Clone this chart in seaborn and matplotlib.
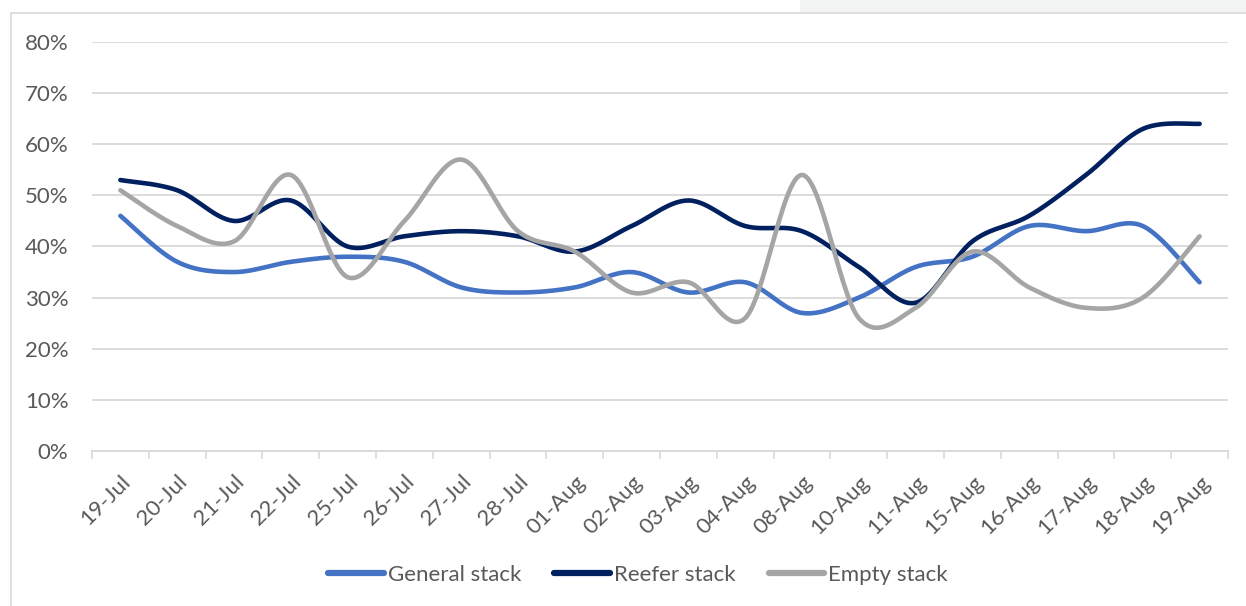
import numpy as np
import pandas as pd
import matplotlib
matplotlib.use("Agg")
import matplotlib.pyplot as plt
from matplotlib.patches import Rectangle
from matplotlib.ticker import FixedLocator, PercentFormatter
from matplotlib.transforms import ScaledTranslation
import seaborn as sns

dates = ["19-Jul", "20-Jul", "21-Jul", "22-Jul", "25-Jul", "26-Jul", "27-Jul",
         "28-Jul", "01-Aug", "02-Aug", "03-Aug", "04-Aug", "08-Aug", "10-Aug",
         "11-Aug", "15-Aug", "16-Aug", "17-Aug", "18-Aug", "19-Aug"]
general = [46, 37, 35, 37, 38, 37, 32, 31, 32, 35, 31, 33, 27, 30, 36, 38, 44, 43, 44, 33]
reefer = [53, 51, 45, 49, 40, 42, 43, 42, 39, 44, 49, 44, 43, 36, 29, 41, 46, 54, 63, 64]
empty = [51, 44, 41, 54, 34, 45, 57, 43, 39, 31, 33, 26, 54, 26, 28, 39, 32, 28, 30, 42]

series_names = ["General stack", "Reefer stack", "Empty stack"]
series_values = [general, reefer, empty]
colors = ["#4472C4", "#002060", "#A5A5A5"]


def smooth(values, steps=30):
    """Catmull-Rom spline through the points (smoothed line)."""
    y = np.asarray(values, dtype=float)
    x = np.arange(len(y), dtype=float)
    px = np.concatenate([[x[0]], x, [x[-1]]])
    py = np.concatenate([[y[0]], y, [y[-1]]])
    xs, ys = [], []
    for i in range(1, len(px) - 2):
        t = np.linspace(0, 1, steps, endpoint=(i == len(px) - 3))
        for p, out in ((px, xs), (py, ys)):
            p0, p1, p2, p3 = p[i - 1], p[i], p[i + 1], p[i + 2]
            m1 = (p2 - p0) / 2.0
            m2 = (p3 - p1) / 2.0
            h00 = 2 * t**3 - 3 * t**2 + 1
            h10 = t**3 - 2 * t**2 + t
            h01 = -2 * t**3 + 3 * t**2
            h11 = t**3 - t**2
            out.append(h00 * p1 + h10 * m1 + h01 * p2 + h11 * m2)
    return np.concatenate(xs), np.concatenate(ys)


frames = []
for name, vals in zip(series_names, series_values):
    sx, sy = smooth(vals)
    frames.append(pd.DataFrame({"pos": sx, "value": sy, "series": name}))
df = pd.concat(frames, ignore_index=True)

sns.set_theme(style="white")
plt.rcParams["font.family"] = ["Lato", "DejaVu Sans"]

W, H = 1246, 606
fig = plt.figure(figsize=(W / 100, H / 100), dpi=100)
fig.patch.set_facecolor("white")

# faint header band and chart frame
fig.add_artist(Rectangle((800 / W, 1 - 13 / H), 1, 13 / H, transform=fig.transFigure,
                         facecolor="#f3f4f4", edgecolor="none", zorder=0))
fig.add_artist(Rectangle((11 / W, -0.1), 1.2, 1.1 - 13 / H, transform=fig.transFigure,
                         facecolor="none", edgecolor="#d9d9d9", linewidth=1.2, zorder=1))

ax = fig.add_axes([92 / W, 1 - 451 / H, (1228 - 92) / W, (451 - 42) / H])
ax.set_facecolor("none")

sns.lineplot(data=df, x="pos", y="value", hue="series", hue_order=series_names,
             palette=colors, estimator=None, sort=False,
             linewidth=3.3, legend=False, ax=ax)
for ln in ax.lines:
    ln.set_solid_capstyle("round")
    ln.set_solid_joinstyle("round")
    ln.set_zorder(3)

ax.set_xlim(-0.5, len(dates) - 0.5)
ax.set_ylim(0, 80)
ax.set_yticks(np.arange(0, 81, 10))
ax.yaxis.set_major_formatter(PercentFormatter(decimals=0))
ax.grid(axis="y", color="#d9d9d9", linewidth=1.3)
ax.grid(axis="x", visible=False)
ax.set_axisbelow(True)

ax.set_xticks(np.arange(len(dates)))
ax.set_xticklabels(dates, rotation=45, ha="right", rotation_mode="anchor")
shift = ScaledTranslation(4 / 100, 0, fig.dpi_scale_trans)
for lab in ax.get_xticklabels():
    lab.set_transform(lab.get_transform() + shift)
ax.xaxis.set_minor_locator(FixedLocator(np.arange(-0.5, len(dates), 1.0)))
ax.tick_params(axis="x", which="major", length=0, pad=15, labelsize=16, labelcolor="#595959")
ax.tick_params(axis="x", which="minor", length=6, width=1.2, color="#d9d9d9", bottom=True)
ax.tick_params(axis="y", length=0, pad=17, labelsize=16, labelcolor="#595959")

for side in ("top", "right", "left"):
    ax.spines[side].set_visible(False)
ax.spines["bottom"].set_color("#d9d9d9")
ax.spines["bottom"].set_linewidth(1.3)
ax.set_xlabel("")
ax.set_ylabel("")

handles = ax.lines[:3]
leg = fig.legend(handles, series_names, loc="center", bbox_to_anchor=(638 / W, 1 - 575 / H),
                 ncol=3, frameon=False, fontsize=16, handlelength=2.5, handletextpad=0.18,
                 columnspacing=1.5)
for t in leg.get_texts():
    t.set_color("#595959")
for h in leg.legend_handles:
    h.set_linewidth(4.5)

fig.savefig("out.png", dpi=100, facecolor="white")
